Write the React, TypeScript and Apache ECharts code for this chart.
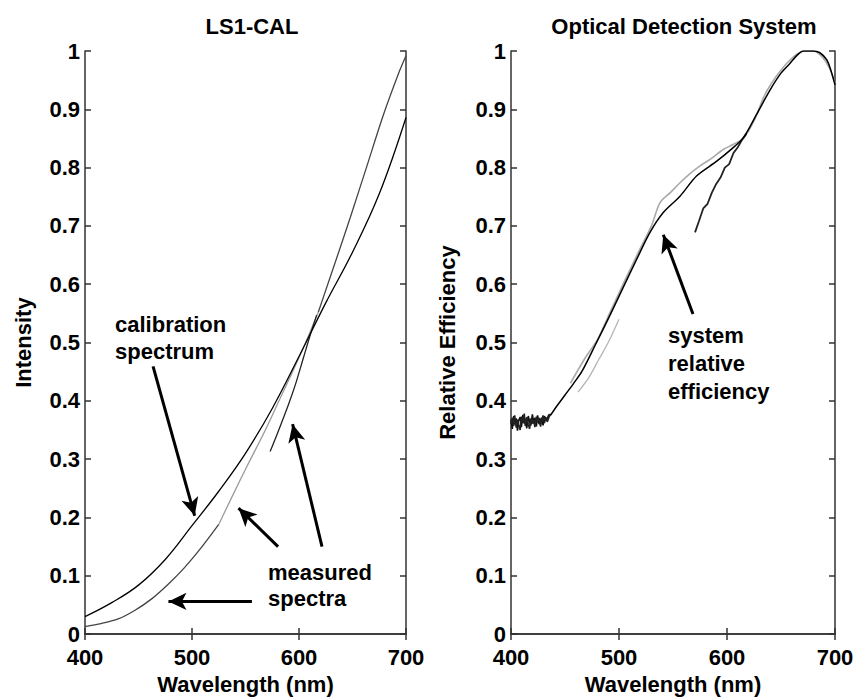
import React, { useEffect, useRef } from "react";
import * as echarts from "echarts";

// ---------- Titles / labels ----------
const leftTitle = "LS1-CAL";
const rightTitle = "Optical Detection System";
const xName = "Wavelength (nm)";
const leftYName = "Intensity";
const rightYName = "Relative Efficiency";

// ---------- Left panel: LS1-CAL ----------
const calWl = [400, 425, 450, 475, 500, 525, 550, 575, 600, 625, 650, 675, 700];
const calVal = [0.03, 0.054, 0.084, 0.128, 0.186, 0.245, 0.31, 0.387, 0.476, 0.568, 0.655, 0.755, 0.886];

const measDarkWl = [400, 415, 431, 446, 462, 478, 493, 509, 525];
const measDarkVal = [0.013, 0.018, 0.026, 0.04, 0.06, 0.086, 0.114, 0.149, 0.188];

const measGrayWl = [525, 537, 552, 568, 580, 592, 605, 618];
const measGrayVal = [0.188, 0.234, 0.29, 0.348, 0.395, 0.442, 0.495, 0.552];

const measUpperWl = [618, 628, 638, 648, 663, 679, 694, 700];
const measUpperVal = [0.552, 0.606, 0.66, 0.715, 0.8, 0.891, 0.966, 0.992];

const measSegWl = [573, 580, 590, 597, 604, 610, 616.5];
const measSegVal = [0.313, 0.345, 0.393, 0.43, 0.473, 0.51, 0.547];

// arrows [fromX, fromY, toX, toY]
const leftArrows = [
  [463.6, 0.459, 502.5, 0.203],
  [580.4, 0.15, 543.5, 0.216],
  [621.5, 0.15, 594, 0.36],
  [556, 0.056, 478, 0.056],
];

// ---------- Right panel: Optical Detection System ----------
const noiseWl = [400, 401.2, 402.5, 403.4, 404.8, 406, 407.1, 408.5, 409.6, 411, 412.3, 413.2, 414.6, 416, 417.2, 418.4, 419.8, 421, 422.1, 423.5, 424.6, 426, 427.4, 428.3, 429.7, 431, 432.2, 433.6, 435, 436.5];
const noiseVal = [0.368, 0.352, 0.374, 0.36, 0.37, 0.349, 0.366, 0.372, 0.355, 0.376, 0.361, 0.369, 0.353, 0.374, 0.364, 0.358, 0.377, 0.362, 0.371, 0.356, 0.375, 0.36, 0.368, 0.371, 0.358, 0.374, 0.366, 0.37, 0.376, 0.375];
const noise2Val = [0.36, 0.371, 0.357, 0.375, 0.354, 0.368, 0.359, 0.35, 0.373, 0.362, 0.378, 0.357, 0.372, 0.36, 0.352, 0.37, 0.361, 0.367, 0.355, 0.373, 0.363, 0.371, 0.356, 0.366, 0.375, 0.362, 0.372, 0.364, 0.371, 0.378];

const sysWl = [436.5, 442, 450, 458, 465.5, 477.8, 491.7, 504, 516.4, 528.7, 541, 556.5, 572, 590.5, 603, 615, 627, 639.8, 650, 658.4, 665, 670.7, 675, 680, 686, 692.3, 696, 700];
const sysVal = [0.375, 0.39, 0.41, 0.43, 0.45, 0.495, 0.547, 0.595, 0.643, 0.689, 0.723, 0.751, 0.786, 0.811, 0.83, 0.851, 0.89, 0.933, 0.962, 0.979, 0.993, 1.0, 1.0, 1.0, 0.997, 0.985, 0.968, 0.942];

const effGrayWl = [455, 468.5, 480, 492, 505, 518, 530, 538, 548, 556.5, 566, 575, 585, 596.6, 606, 615, 625, 635, 645, 655, 665, 672, 680, 688, 695, 700];
const effGrayVal = [0.43, 0.473, 0.505, 0.553, 0.605, 0.655, 0.7, 0.74, 0.758, 0.774, 0.79, 0.803, 0.815, 0.831, 0.84, 0.85, 0.88, 0.925, 0.955, 0.978, 0.995, 1.0, 1.0, 0.99, 0.97, 0.945];

const effLowWl = [462, 472, 481, 490, 500];
const effLowVal = [0.415, 0.44, 0.47, 0.5, 0.54];

const effSegWl = [570.4, 574, 578, 582, 586, 590, 594, 598, 602, 606, 610, 614, 618];
const effSegVal = [0.689, 0.708, 0.73, 0.738, 0.757, 0.772, 0.783, 0.8, 0.806, 0.825, 0.835, 0.848, 0.858];

const rightArrows = [[568.5, 0.549, 541, 0.685]];

// ---------- helpers ----------
const zip = (xs: number[], ys: number[]) => xs.map((x, i) => [x, ys[i]]);
const FONT = "'Liberation Sans', Arial, Helvetica, sans-serif";
const AXIS_COLOR = "#333";

function arrowLines(list: number[][]) {
  return list.map((a) => [{ coord: [a[0], a[1]] }, { coord: [a[2], a[3]] }]);
}

function makeAxes(gridIndex: number, yName: string, yGap: number) {
  const lineStyle = { color: AXIS_COLOR, width: 1.5 };
  const tick = { show: true, inside: true, length: 6, lineStyle };
  const labelStyle = { color: "#000", fontSize: 22, fontWeight: "bold" as const, fontFamily: FONT };
  const xAxes = [
    {
      type: "value", gridIndex, min: 400, max: 700, interval: 100, position: "bottom",
      axisLine: { show: true, lineStyle }, axisTick: tick, splitLine: { show: false },
      axisLabel: { ...labelStyle, margin: 12 },
      name: xName, nameLocation: "middle", nameGap: 38,
      nameTextStyle: { ...labelStyle, fontSize: 22 },
    },
    {
      type: "value", gridIndex, min: 400, max: 700, interval: 100, position: "top",
      axisLine: { show: true, lineStyle }, axisTick: tick, splitLine: { show: false },
      axisLabel: { show: false },
    },
  ];
  const yAxes = [
    {
      type: "value", gridIndex, min: 0, max: 1, interval: 0.1, position: "left",
      axisLine: { show: true, lineStyle }, axisTick: tick, splitLine: { show: false },
      axisLabel: { ...labelStyle, margin: 5, formatter: (v: number) => String(Math.round(v * 10) / 10) },
      name: yName, nameLocation: "middle", nameGap: yGap, nameRotate: 90,
      nameTextStyle: { ...labelStyle, fontSize: 22 },
    },
    {
      type: "value", gridIndex, min: 0, max: 1, interval: 0.1, position: "right",
      axisLine: { show: true, lineStyle }, axisTick: tick, splitLine: { show: false },
      axisLabel: { show: false },
    },
  ];
  return { xAxes, yAxes };
}

function lineSeries(xi: number, yi: number, data: number[][], color: string, width: number, smooth: boolean | number, extra: any = {}) {
  return {
    type: "line", xAxisIndex: xi, yAxisIndex: yi, data, showSymbol: false, symbol: "none",
    smooth, lineStyle: { color, width }, silent: true, z: 3, ...extra,
  };
}

const arrowMark = (list: number[][]) => ({
  silent: true,
  symbol: ["none", "arrow"],
  symbolSize: [13, 18],
  lineStyle: { color: "#000", width: 3, type: "solid" },
  itemStyle: { color: "#000" },
  label: { show: false },
  emphasis: { disabled: true },
  data: arrowLines(list),
});

export default function App() {
  const ref = useRef<HTMLDivElement>(null);
  useEffect(() => {
    if (!ref.current) return;
    const chart = echarts.init(ref.current, null, { renderer: "svg" });
    const L = makeAxes(0, leftYName, 51);
    const R = makeAxes(1, rightYName, 53);
    const textStyle = { fill: "#000", fontSize: 22, fontWeight: "bold", fontFamily: FONT, lineHeight: 27 };
    const titleStyle = { color: "#000", fontSize: 22, fontWeight: "bold", fontFamily: FONT };
    chart.setOption({
      animation: false,
      backgroundColor: "#fff",
      title: [
        { text: leftTitle, left: 247, top: 10, textAlign: "center", textStyle: titleStyle },
        { text: rightTitle, left: 679, top: 10, textAlign: "center", textStyle: titleStyle },
      ],
      grid: [
        { left: 85, top: 51, width: 321, height: 586 },
        { left: 511, top: 51, width: 324, height: 586 },
      ],
      xAxis: [...L.xAxes, ...R.xAxes],
      yAxis: [...L.yAxes, ...R.yAxes],
      series: [
        lineSeries(0, 0, zip(measDarkWl, measDarkVal), "#444", 1.3, 0.3),
        lineSeries(0, 0, zip(measGrayWl, measGrayVal), "#9a9a9a", 1.3, 0.3),
        lineSeries(0, 0, zip(measUpperWl, measUpperVal), "#444", 1.3, 0.3),
        lineSeries(0, 0, zip(measSegWl, measSegVal), "#222", 1.3, 0.3),
        lineSeries(0, 0, zip(calWl, calVal), "#000", 1.3, 0.4, { markLine: arrowMark(leftArrows) }),
        lineSeries(2, 2, zip(effGrayWl, effGrayVal), "#aaa", 1.6, 0.3),
        lineSeries(2, 2, zip(effLowWl, effLowVal), "#b5b5b5", 1.3, 0.3),
        lineSeries(2, 2, zip(noiseWl, noiseVal), "#111", 1.6, false),
        lineSeries(2, 2, zip(noiseWl, noise2Val), "#222", 1.6, false),
        lineSeries(2, 2, zip(effSegWl, effSegVal), "#222", 1.8, false),
        lineSeries(2, 2, zip(sysWl, sysVal), "#000", 1.5, 0.3, { markLine: arrowMark(rightArrows) }),
      ],
      graphic: [
        { type: "text", left: 115, top: 311, silent: true, style: { ...textStyle, text: "calibration\nspectrum" } },
        { type: "text", left: 268, top: 559, silent: true, style: { ...textStyle, lineHeight: 26, text: "measured\nspectra" } },
        { type: "text", left: 668, top: 321, silent: true, style: { ...textStyle, lineHeight: 28, text: "system\nrelative\nefficiency" } },
      ],
    });
    return () => chart.dispose();
  }, []);
  return <div ref={ref} style={{ position: "fixed", left: 0, top: 0, width: 859, height: 700, background: "#fff" }} />;
}
